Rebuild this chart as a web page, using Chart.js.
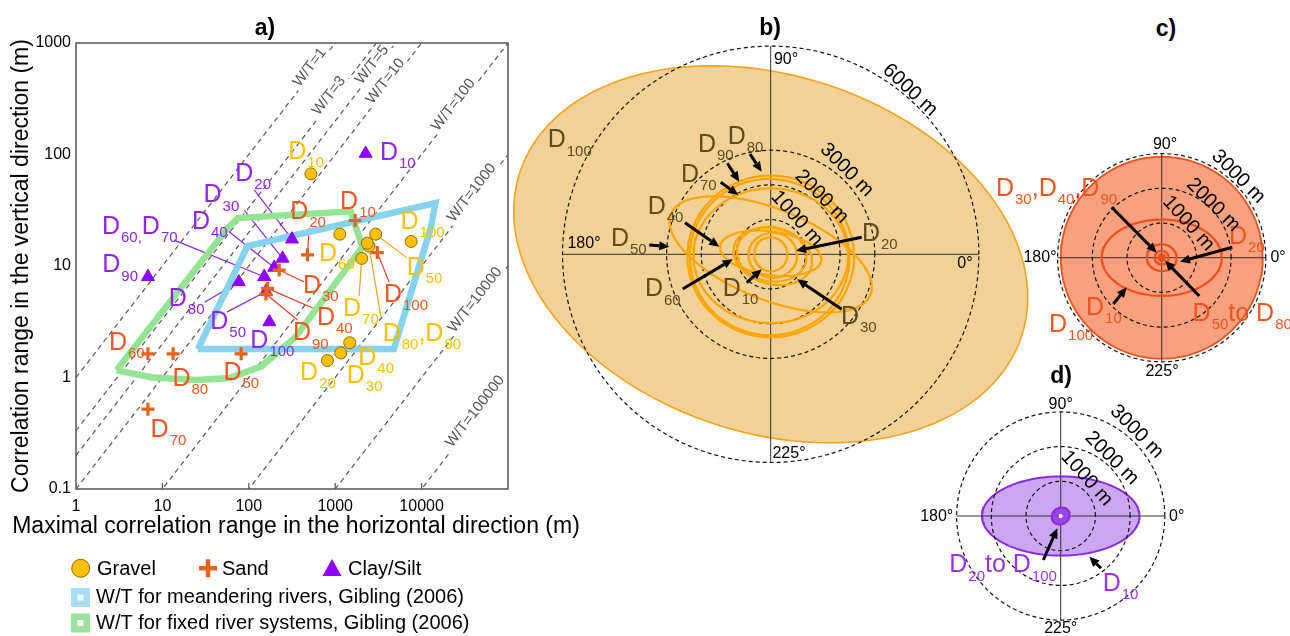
<!DOCTYPE html>
<html lang="en">
<head>
<meta charset="UTF-8">
<title>Correlation ranges</title>
<script src="https://cdn.jsdelivr.net/npm/chart.js"></script>
<style>
  body { margin: 0; background: #fff; width: 1290px; height: 636px; position: relative; overflow: hidden;
         font-family: "Liberation Sans", Arial, sans-serif; }
  canvas { position: absolute; }
  .tag { position: absolute; font-weight: bold; font-size: 23px; line-height: 1; transform: translate(-50%, -50%); }
</style>
</head>
<body>
<canvas id="chartA" width="580" height="636" style="left:0;top:0"></canvas>
<canvas id="chartB" width="530" height="480" style="left:510px;top:0"></canvas>
<canvas id="chartC" width="305" height="255" style="left:985px;top:130px"></canvas>
<canvas id="chartD" width="280" height="241" style="left:920px;top:395px"></canvas>
<div class="tag" style="left:265px;top:27px">a)</div>
<div class="tag" style="left:770px;top:27px">b)</div>
<div class="tag" style="left:1166px;top:28px">c)</div>
<div class="tag" style="left:1061px;top:375px">d)</div>

<script>
// ---- panel a : maximal horizontal vs vertical correlation range (m), classes D10..D100
const classes = ['D10', 'D20', 'D30', 'D40', 'D50', 'D60', 'D70', 'D80', 'D90', 'D100'];
const gravelH = [523, 813, 1160, 1473, 2940, 1130, 2030, 2460, 2350, 7570];
const gravelV = [67, 1.42, 1.66, 2.05, 19.3, 19.3, 11.7, 15.1, 16.0, 16.6];
const sandH = [1700, 478, 225, 165, 81.5, 6.8, 6.8, 13.3, 158, 3070];
const sandV = [25.6, 12.6, 9.2, 6.3, 1.63, 1.63, 0.52, 1.63, 5.6, 13.2];
const claySiltH = [2250, 316, 246, 197, 158, 151, 151, 76.6, 6.8, 173];
const claySiltV = [102, 17.4, 11.7, 9.7, 5.9, 8.0, 8.0, 7.2, 8.0, 3.15];

// W/T ratios (dashed guide lines) and Gibling (2006) fields
const wtRatios = [1, 3, 5, 10, 100, 1000, 10000, 100000];
const meanderH = [25.7, 96.4, 14460, 12770, 4780];
const meanderV = [1.8, 15.1, 36.7, 22, 1.8];
const fixedH = [2.95, 7.73, 24.9, 59.7, 140, 345, 2070, 1510, 74.5, 54.7];
const fixedV = [1.16, 1.0, 0.95, 0.99, 1.26, 2.29, 14.8, 30.9, 26.9, 21.1];

const xTicks = [1, 10, 100, 1000, 10000];
const yTicks = [0.1, 1, 10, 100, 1000];

// ---- panels b, c, d : anisotropy ellipses (metres) -- semi axes, tilt (deg), centre shift
const ringsB = [1000, 2000, 3000, 6000];
const ringsCD = [1000, 2000, 3000];

const gravelClasses = ['D100', 'D50', 'D80', 'D90', 'D70', 'D30', 'D40', 'D60', 'D20', 'D10'];
const gravelMajor = [7606, 3100, 2400, 2300, 2230, 1150, 1470, 1010, 700, 480];
const gravelMinor = [5150, 1300, 2330, 2250, 1940, 800, 630, 780, 650, 490];
const gravelTilt = [-18, -22, 0, -8, 0, -15, -8, -10, 0, 0];
const gravelShiftX = [0, 0, 0, -30, 0, 60, 0, 30, 60, 0];
const gravelShiftY = [0, 0, -60, -80, -40, -60, 30, 0, -30, 0];

const sandClasses = ['D100', 'D10', 'D20', 'D50-D80', 'D30,D40,D90'];
const sandMajor = [2910, 1730, 430, 200, 90];
const sandMinor = [2910, 1100, 385, 200, 90];
const sandTilt = [0, 0, 0, 0, 0];

const clayClasses = ['D10', 'D20-D100', 'inner'];
const clayMajor = [2270, 270, 150];
const clayMinor = [1140, 230, 120];
const clayTilt = [0, 35, 35];

// ---------------------------------------------------------------------------
const fontFam = '"Liberation Sans", Arial, sans-serif';
Chart.defaults.font.family = fontFam;

const seriesXY = { g: [gravelH, gravelV], s: [sandH, sandV], c: [claySiltH, claySiltV] };
const labelColor = { g: '#FFC000', s: '#F2561D', c: '#9123F0' };
const leaderColor = { g: '#F7A21B', s: '#EE3B1E', c: '#9123F0' };

// [series, index, text, label dx, label dy, leader dx, leader dy] (px from the marker)
const annoA = [
  ['g', 0, 'D_{10}', -13.7, -24],
  ['g', 1, 'D_{20}', -18.3, 10],
  ['g', 2, 'D_{30}', 15, 20.6],
  ['g', 3, 'D_{40}', 17.6, 13.4],
  ['g', 4, 'D_{50}', 40, 31.7, 31.3, 23.7],
  ['g', 5, 'D_{60}', -11.7, 17.4],
  ['g', 6, 'D_{70}', -9.7, 48.4, -2.7, 37.7],
  ['g', 7, 'D_{80},D_{90}', 22.7, 85.7, 12, 71],
  ['g', 9, 'D_{100}', -1.6, -21.7],
  ['s', 0, 'D_{10}', -6, -20.7],
  ['s', 1, 'D_{20}', -8.3, -45, 1.7, -27],
  ['s', 2, 'D_{30}', 32.7, 14, 25, 12],
  ['s', 3, 'D_{40}', 58.4, 27.7, 49.7, 21.7],
  ['s', 4, 'D_{50}', -8.7, 16.7],
  ['s', 5, 'D_{60}', -30, -13.3],
  ['s', 6, 'D_{70}', 11.7, 18.4],
  ['s', 7, 'D_{80}', 8.4, 23.4],
  ['s', 8, 'D_{90}', 36, 37.4, 31.3, 25.7],
  ['s', 9, 'D_{100}', 15.7, 40.3, 11.7, 29.3],
  ['c', 0, 'D_{10}', 23.3, -2.3],
  ['c', 1, 'D_{20}', -47.7, -67.6, -37.7, -49.3],
  ['c', 2, 'D_{30}', -70, -65, -38.3, -48.3],
  ['c', 3, 'D_{40}', -73.3, -47.3, -47, -37.3],
  ['c', 5, 'D_{60,}D_{70}', -153.3, -51.7, -90, -36.7],
  ['c', 8, 'D_{90}', -36.6, -13.4],
  ['c', 7, 'D_{80}', -61, 15, -34.3, 20.3],
  ['c', 4, 'D_{50}', -46.7, 28.3, -38.7, 20.3],
  ['c', 9, 'D_{100}', -10, 16.6]
];
// x value where each W/T label sits on its line
const wtLabelX = [566, 946, 2990, 4260, 26100, 42500, 46500, 46500];

function richText(ctx, str, x, y, big, small, color) {
  // x, y = centre of the first big glyph; _{..} = subscript
  const parts = str.split(/(_\{[^}]*\})/).filter(p => p.length);
  ctx.save();
  ctx.fillStyle = color;
  ctx.textAlign = 'left';
  ctx.textBaseline = 'alphabetic';
  ctx.font = big + 'px ' + fontFam;
  let cx = x - ctx.measureText(parts[0][0]).width / 2;
  const base = y + big * 0.36;
  parts.forEach(p => {
    if (p.startsWith('_{')) {
      const t = p.slice(2, -1);
      ctx.font = small + 'px ' + fontFam;
      ctx.fillText(t, cx + 1, base + small * 0.55);
      cx += ctx.measureText(t).width + 1;
    } else {
      ctx.font = big + 'px ' + fontFam;
      ctx.fillText(p, cx, base);
      cx += ctx.measureText(p).width;
    }
  });
  ctx.restore();
}

function arrow(ctx, x1, y1, x2, y2) {
  const ang = Math.atan2(y2 - y1, x2 - x1);
  const hl = 10, hw = 4.5;
  const bx = x2 - hl * Math.cos(ang), by = y2 - hl * Math.sin(ang);
  ctx.save();
  ctx.strokeStyle = '#000';
  ctx.fillStyle = '#000';
  ctx.lineWidth = 3;
  ctx.beginPath(); ctx.moveTo(x1, y1); ctx.lineTo(bx, by); ctx.stroke();
  ctx.beginPath();
  ctx.moveTo(x2, y2);
  ctx.lineTo(bx + hw * Math.sin(ang), by - hw * Math.cos(ang));
  ctx.lineTo(bx - hw * Math.sin(ang), by + hw * Math.cos(ang));
  ctx.closePath(); ctx.fill();
  ctx.restore();
}

function pointPx(chart, s, i) {
  const [H, V] = seriesXY[s];
  return { x: chart.scales.x.getPixelForValue(H[i]), y: chart.scales.y.getPixelForValue(V[i]) };
}

const panelA = {
  id: 'panelA',
  beforeDatasetsDraw(chart) {
    const ctx = chart.ctx;
    ctx.save();
    ctx.lineWidth = 1.2;
    annoA.forEach(([s, i, , , , lx, ly]) => {
      if (lx === undefined) return;
      const p = pointPx(chart, s, i);
      ctx.strokeStyle = leaderColor[s];
      ctx.beginPath(); ctx.moveTo(p.x + lx, p.y + ly); ctx.lineTo(p.x, p.y); ctx.stroke();
    });
    ctx.restore();
  },
  afterDatasetsDraw(chart) {
    const { ctx, chartArea: ca, scales } = chart;
    // W/T labels, sitting on their lines
    ctx.save();
    ctx.font = '15px ' + fontFam;
    wtRatios.forEach((k, j) => {
      const X = wtLabelX[j];
      const x1 = scales.x.getPixelForValue(X), y1 = scales.y.getPixelForValue(X / k);
      const x2 = scales.x.getPixelForValue(X * 2), y2 = scales.y.getPixelForValue(X * 2 / k);
      const ang = Math.atan2(y2 - y1, x2 - x1);
      const t = 'W/T=' + k;
      const w = ctx.measureText(t).width;
      ctx.save();
      ctx.translate(x1, y1);
      ctx.rotate(ang);
      ctx.fillStyle = '#fff';
      ctx.fillRect(-w / 2 - 3, -13, w + 6, 15);
      ctx.fillStyle = '#555';
      ctx.textAlign = 'center';
      ctx.textBaseline = 'alphabetic';
      ctx.fillText(t, 0, -1);
      ctx.restore();
    });
    ctx.restore();
    // D labels
    annoA.forEach(([s, i, txt, dx, dy]) => {
      const p = pointPx(chart, s, i);
      richText(ctx, txt, p.x + dx, p.y + dy, 25, 15, labelColor[s]);
    });
    // frame and inward ticks
    ctx.save();
    ctx.strokeStyle = '#555';
    ctx.lineWidth = 1.5;
    ctx.strokeRect(ca.left, ca.top, ca.right - ca.left, ca.bottom - ca.top);
    ctx.lineWidth = 1.2;
    xTicks.slice(1).forEach(v => {
      const x = scales.x.getPixelForValue(v);
      ctx.beginPath(); ctx.moveTo(x, ca.bottom); ctx.lineTo(x, ca.bottom - 6); ctx.stroke();
    });
    ctx.restore();
  },
  afterDraw(chart) {
    const ctx = chart.ctx;
    ctx.save();
    ctx.fillStyle = '#000';
    ctx.textBaseline = 'middle';
    ctx.textAlign = 'center';
    ctx.font = '23px ' + fontFam;
    ctx.fillText('Maximal correlation range in the horizontal direction (m)', 296, 527);
    ctx.font = '20px ' + fontFam;
    ctx.textAlign = 'left';
    // gravel
    ctx.beginPath(); ctx.arc(80.7, 568.3, 9, 0, 2 * Math.PI);
    ctx.fillStyle = '#FFC000'; ctx.fill();
    ctx.strokeStyle = '#8C6A00'; ctx.lineWidth = 1; ctx.stroke();
    // sand
    ctx.strokeStyle = '#E8621C'; ctx.lineWidth = 4.5;
    ctx.beginPath(); ctx.moveTo(199, 568.3); ctx.lineTo(217, 568.3);
    ctx.moveTo(208, 559.3); ctx.lineTo(208, 577.3); ctx.stroke();
    // clay/silt
    ctx.fillStyle = '#8F00FF';
    ctx.beginPath(); ctx.moveTo(332, 559); ctx.lineTo(341.5, 576); ctx.lineTo(322.5, 576); ctx.closePath(); ctx.fill();
    ctx.fillStyle = '#000';
    ctx.fillText('Gravel', 97, 569);
    ctx.fillText('Sand', 222, 569);
    ctx.fillText('Clay/Silt', 348, 569);
    // field swatches
    [['#A8DDF3', 597.5, 'W/T for meandering rivers, Gibling (2006)'],
     ['#9BE39B', 623, 'W/T for fixed river systems, Gibling (2006)']].forEach(([c, y, t]) => {
      ctx.fillStyle = c; ctx.fillRect(71, y - 9.5, 19, 19);
      ctx.fillStyle = '#fff'; ctx.fillRect(77.5, y - 3, 6, 6);
      ctx.fillStyle = '#000'; ctx.fillText(t, 96, y);
    });
    ctx.restore();
  }
};

const xy = (H, V) => H.map((h, i) => ({ x: h, y: V[i] }));
const closed = (H, V) => xy(H.concat(H[0]), V.concat(V[0]));

new Chart('chartA', {
  type: 'scatter',
  data: {
    datasets: [
      { label: 'Sand', data: xy(sandH, sandV), pointStyle: 'cross', pointRadius: 6.5,
        borderColor: '#E8621C', backgroundColor: '#E8621C', borderWidth: 3.2, order: 0 },
      { label: 'Gravel', data: xy(gravelH, gravelV), pointStyle: 'circle', pointRadius: 6,
        backgroundColor: '#FFC000', borderColor: '#8C6A00', borderWidth: 1, order: 1 },
      { label: 'Clay/Silt', data: xy(claySiltH, claySiltV), pointStyle: 'triangle', pointRadius: 7.5,
        backgroundColor: '#8F00FF', borderColor: '#8F00FF', borderWidth: 1, order: 2 },
      { label: 'meandering', data: closed(meanderH, meanderV), showLine: true, pointRadius: 0,
        borderColor: '#86D3F0', borderWidth: 6.5, borderJoinStyle: 'miter', order: 4 },
      { label: 'fixed', data: closed(fixedH, fixedV), showLine: true, pointRadius: 0,
        borderColor: '#93E493', borderWidth: 6.5, borderJoinStyle: 'miter', order: 4 },
      ...wtRatios.map(k => ({
        label: 'W/T=' + k, data: [{ x: 1, y: 1 / k }, { x: 1e5, y: 1e5 / k }], showLine: true,
        pointRadius: 0, borderColor: '#555', borderWidth: 1.2, borderDash: [5, 4], order: 6
      }))
    ]
  },
  options: {
    responsive: false,
    animation: false,
    events: [],
    layout: { padding: { top: 43, right: 72, bottom: 97, left: 0 } },
    plugins: { legend: { display: false }, tooltip: { enabled: false } },
    scales: {
      x: {
        type: 'logarithmic', min: 1, max: 100000, position: 'bottom',
        afterBuildTicks: s => { s.ticks = xTicks.map(v => ({ value: v })); },
        afterFit: s => { s.height = 50; },
        grid: { display: false, drawTicks: false },
        border: { display: false },
        ticks: { color: '#000', font: { size: 16 }, padding: 8, maxRotation: 0, autoSkip: false,
                  callback: v => String(v) }
      },
      y: {
        type: 'logarithmic', min: 0.1, max: 1000,
        afterBuildTicks: s => { s.ticks = yTicks.map(v => ({ value: v })); },
        afterFit: s => { s.width = 76; },
        grid: { display: false, drawTicks: false },
        border: { display: false },
        ticks: { color: '#000', font: { size: 16 }, padding: 5, autoSkip: false,
                 callback: v => String(v) },
        title: { display: true, text: 'Correlation range in the vertical direction (m)',
                 color: '#000', font: { size: 23 }, padding: { top: 8, bottom: 0 } }
      }
    }
  },
  plugins: [panelA]
});

// ---------------------------------------------------------------------------
function ellipse(a, b, tilt, cx, cy) {
  const t = tilt * Math.PI / 180, pts = [];
  for (let k = 0; k <= 144; k++) {
    const u = k / 144 * 2 * Math.PI;
    const ex = a * Math.cos(u), ey = b * Math.sin(u);
    pts.push({ x: cx + ex * Math.cos(t) - ey * Math.sin(t), y: cy + ex * Math.sin(t) + ey * Math.cos(t) });
  }
  return pts;
}

function polarChart(id, spec) {
  const datasets = [];
  spec.rings.forEach(r => datasets.push({
    data: ellipse(r, r, 0, 0, 0), showLine: true, pointRadius: 0,
    borderColor: '#111', borderWidth: 1.2, borderDash: [4, 3], order: 3
  }));
  const R = spec.axis;
  datasets.push({ data: [{ x: -R, y: 0 }, { x: R, y: 0 }], showLine: true, pointRadius: 0,
                  borderColor: '#333', borderWidth: 1, order: 3 });
  datasets.push({ data: [{ x: 0, y: -R }, { x: 0, y: R }], showLine: true, pointRadius: 0,
                  borderColor: '#333', borderWidth: 1, order: 3 });
  spec.ellipses.forEach(e => datasets.push(Object.assign({
    showLine: true, pointRadius: 0, borderJoinStyle: 'round'
  }, e)));

  const notes = {
    id: 'notes' + id,
    afterDatasetsDraw(chart) {
      const { ctx, scales } = chart;
      const px = v => scales.x.getPixelForValue(v), py = v => scales.y.getPixelForValue(v);
      spec.arrows.forEach(([x1, y1, x2, y2]) => arrow(ctx, px(x1), py(y1), px(x2), py(y2)));
      spec.labels.forEach(([t, x, y]) => richText(ctx, t, px(x), py(y), 25, 15, spec.labelColor));
      ctx.save();
      ctx.fillStyle = '#000';
      ctx.textAlign = 'center';
      ctx.textBaseline = 'middle';
      ctx.font = '20px ' + fontFam;
      spec.ranges.forEach(([t, x, y, a]) => {
        ctx.save(); ctx.translate(px(x), py(y)); ctx.rotate(a * Math.PI / 180);
        ctx.fillText(t, 0, 0); ctx.restore();
      });
      ctx.font = '16px ' + fontFam;
      spec.degrees.forEach(([t, x, y]) => ctx.fillText(t, px(x), py(y)));
      ctx.restore();
    }
  };

  new Chart(id, {
    type: 'scatter',
    data: { datasets },
    options: {
      responsive: false,
      animation: false,
      events: [],
      layout: { padding: 0, autoPadding: false },
      plugins: { legend: { display: false }, tooltip: { enabled: false } },
      scales: {
        x: { type: 'linear', display: false, min: spec.xr[0], max: spec.xr[1] },
        y: { type: 'linear', display: false, min: spec.yr[0], max: spec.yr[1] }
      }
    },
    plugins: [notes]
  });
}

// panel b : gravel
polarChart('chartB', {
  xr: [-7513, 7761], yr: [-6504, 7328], rings: ringsB, axis: 6000,
  labelColor: '#5E4B1F',
  ellipses: gravelClasses.map((c, i) => i === 0
    ? { label: c, data: ellipse(gravelMajor[i], gravelMinor[i], gravelTilt[i], gravelShiftX[i], gravelShiftY[i]),
        borderColor: '#F6A21E', borderWidth: 1.6, backgroundColor: '#F1D196', fill: 'shape', order: 5 }
    : { label: c, data: ellipse(gravelMajor[i], gravelMinor[i], gravelTilt[i], gravelShiftX[i], gravelShiftY[i]),
        borderColor: '#FFA500', borderWidth: 2.2, fill: false, order: 1 }),
  labels: [['D_{100}', -6168, 3343], ['D_{90}', -1836, 3216], ['D_{80}', -980, 3438], ['D_{70}', -2326, 2343],
           ['D_{40}', -3285, 1421], ['D_{50}', -4343, 507], ['D_{60}', -3363, -951], ['D_{10}', -1124, -934],
           ['D_{20}', 2890, 651], ['D_{30}', 2285, -1749]],
  arrows: [[-597, 2891, -259, 2380], [-1251, 2623, -905, 2092], [-1441, 2075, -934, 1709],
           [-2470, 911, -1481, 219], [-3499, 268, -2922, 219], [-2536, -1000, -1095, -144],
           [-692, -818, -259, -432], [2623, 490, 729, 104], [2046, -1585, 767, -721]],
  ranges: [['6000 m', 4015, 4735, 43], ['3000 m', 2190, 2430, 45], ['2000 m', 1470, 1660, 45], ['1000 m', 750, 1037, 48]],
  degrees: [['90°', 441, 5600], ['180°', -5380, 317], ['0°', 5600, -259], ['225°', 527, -5735]]
});

// panel c : sand
polarChart('chartC', {
  xr: [-5092, 3697], yr: [-3668, 3680], rings: ringsCD, axis: 3000,
  labelColor: '#F2541E',
  ellipses: sandClasses.map((c, i) => ({
    label: c, data: ellipse(sandMajor[i], sandMinor[i], sandTilt[i], 0, 0),
    borderColor: '#F0501C', borderWidth: i === 0 ? 1.8 : 2.2,
    backgroundColor: i === 0 ? '#F9A07E' : '#F0501C',
    fill: (i === 0 || i === 4) ? 'shape' : false, order: i === 0 ? 5 : 1
  })),
  labels: [['D_{30},D_{40},D_{90}', -4516, 2046], ['D_{20}', 2199, 654], ['D_{10}', -1922, -1392],
           ['D_{100}', -2988, -1873], ['D_{50}to D_{80}', 1150, -1556]],
  arrows: [[-1441, 1453, -144, 144], [2035, 300, 527, -115], [-1395, -1334, -1009, -853], [1084, -1104, 95, -86]],
  ranges: [['3000 m', 2207, 2334, 45], ['2000 m', 1487, 1519, 45], ['1000 m', 767, 991, 48]],
  degrees: [['90°', 95, 3248], ['180°', -3507, 12], ['0°', 3352, 12], ['225°', 9, -3294]]
});

// panel d : clay / silt
polarChart('chartD', {
  xr: [-4055, 4014], yr: [-3458, 3487], rings: ringsCD, axis: 3000,
  labelColor: '#9933EE',
  ellipses: clayClasses.map((c, i) => ({
    label: c, data: ellipse(clayMajor[i], clayMinor[i], clayTilt[i], 0, 0),
    borderColor: '#8A2BE2', borderWidth: 2,
    backgroundColor: ['#CBA6F2', '#9B45E8', '#9B45E8'][i],
    fill: i < 2 ? 'shape' : false, order: i === 0 ? 5 : 1
  })).concat([{ label: 'core', data: ellipse(45, 45, 0, 0, 0), borderColor: '#fff', borderWidth: 1,
                backgroundColor: '#fff', fill: 'shape', order: 0 }]),
  labels: [['D_{20}to D_{100}', -2951, -1363], ['D_{10}', 1470, -1893]],
  arrows: [[-501, -1268, -98, -354], [1161, -1507, 824, -1173]],
  ranges: [['3000 m', 2190, 2430, 45], ['2000 m', 1470, 1663, 45], ['1000 m', 749, 1086, 48]],
  degrees: [['90°', 0, 3199], ['180°', -3573, -20], ['0°', 3343, -20], ['225°', 0, -3236]]
});
</script>
</body>
</html>
